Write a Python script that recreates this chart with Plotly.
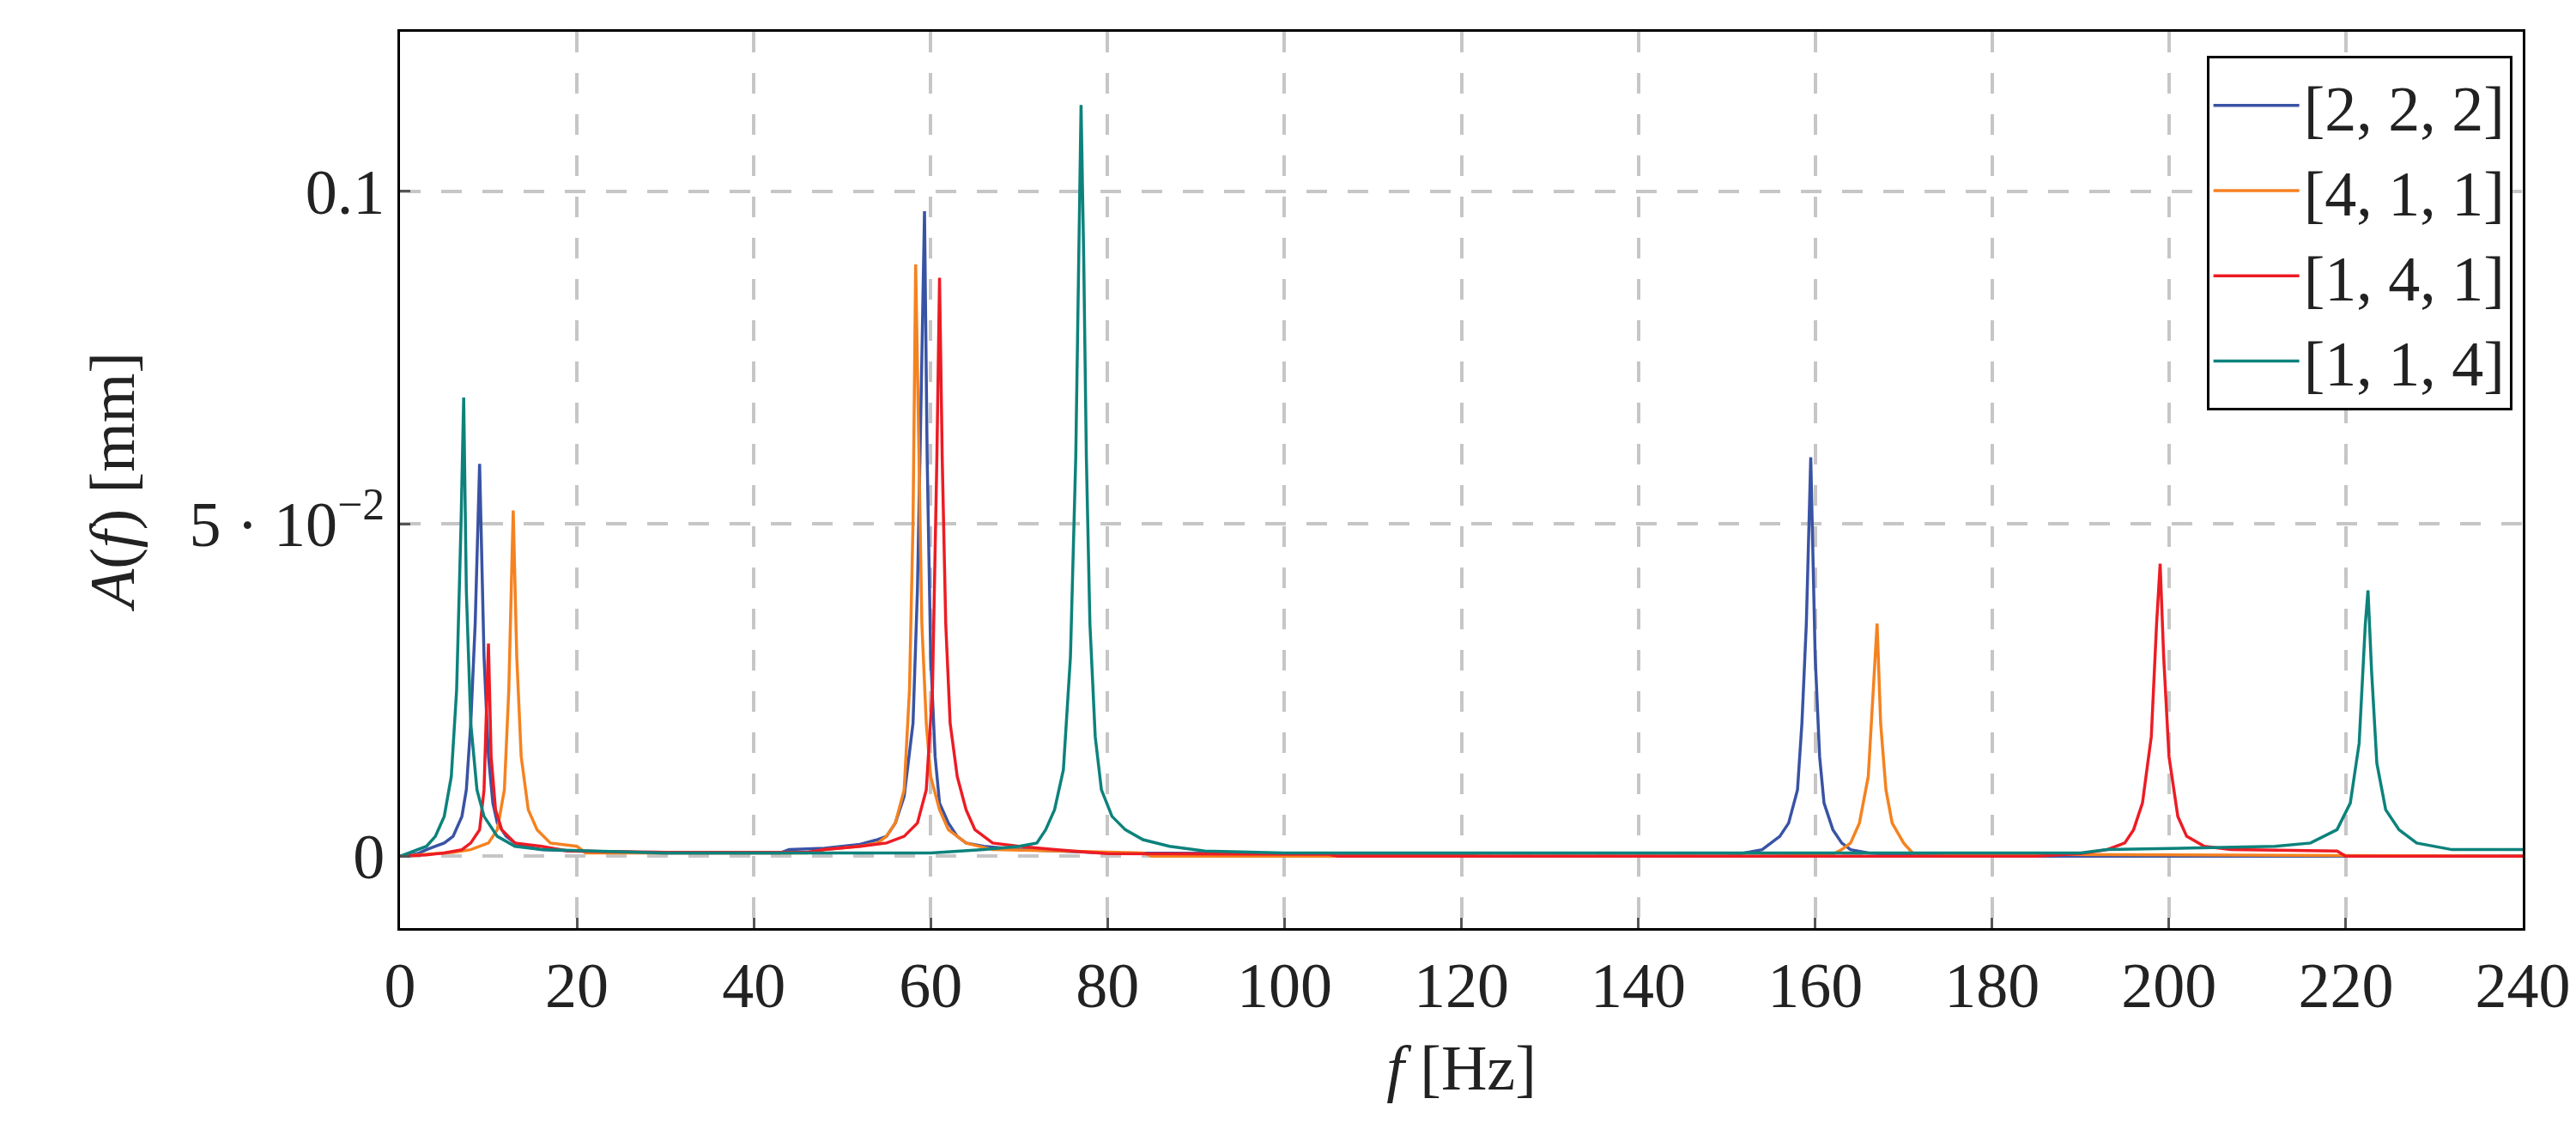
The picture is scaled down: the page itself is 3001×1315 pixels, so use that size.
import plotly.graph_objects as go

# (f [Hz], A [mm]) samples
blue_pts = [(0,0),(2,0.0004),(3,0.001),(4,0.0015),(5,0.002),(6,0.003),(7,0.006),(7.5,0.01),(8,0.02),(8.5,0.035),(9,0.059),(9.5,0.03),(10,0.015),(10.5,0.008),(11,0.005),(12,0.003),(13,0.002),(14,0.0015),(16,0.001),(20,0.0008),(30,0.0005),(43,0.0005),(44,0.001),(48,0.0012),(52,0.0018),(54,0.0025),(55,0.003),(56,0.005),(57,0.009),(58,0.02),(58.5,0.04),(59,0.075),(59.3,0.097),(59.6,0.06),(60,0.03),(60.5,0.015),(61,0.008),(62,0.005),(63,0.003),(64,0.002),(66,0.0015),(70,0.001),(80,0.0005),(100,0.0004),(121,0.0003),(122,0),(150,0),(152,0.0005),(154,0.001),(155,0.002),(156,0.003),(157,0.005),(158,0.01),(158.5,0.02),(159,0.035),(159.5,0.060),(160,0.03),(160.5,0.015),(161,0.008),(162,0.004),(163,0.002),(164,0.001),(166,0.0005),(170,0.0002),(180,0),(240,0)]
orange_pts = [(0,0),(3,0.0003),(6,0.0006),(8,0.001),(9,0.0015),(10,0.002),(11,0.004),(11.8,0.01),(12.3,0.025),(12.8,0.052),(13.2,0.03),(13.7,0.015),(14.5,0.007),(15.5,0.004),(17,0.002),(20,0.0015),(21,0.0005),(40,0.0005),(46,0.0005),(48,0.001),(52,0.0015),(54,0.002),(55,0.003),(56,0.005),(57,0.01),(57.6,0.025),(58,0.05),(58.3,0.089),(58.7,0.06),(59,0.035),(59.5,0.02),(60,0.012),(61,0.007),(62,0.004),(64,0.002),(67,0.001),(75,0.0008),(84,0.0005),(85,0),(155,0),(162,0.0003),(163,0.001),(164,0.002),(165,0.005),(166,0.012),(166.6,0.025),(167,0.035),(167.4,0.02),(168,0.01),(168.7,0.005),(170,0.002),(171,0.0005),(180,0.0003),(240,0)]
red_pts = [(0,0),(3,0.0002),(5,0.0005),(7,0.001),(8,0.002),(9,0.004),(9.5,0.01),(10,0.032),(10.3,0.015),(10.8,0.007),(11.5,0.004),(13,0.002),(16,0.0015),(19,0.0008),(30,0.0006),(46,0.0006),(48,0.001),(52,0.0015),(55,0.002),(57,0.003),(58.5,0.005),(59.5,0.01),(60.2,0.025),(60.7,0.06),(61,0.087),(61.3,0.06),(61.7,0.035),(62.2,0.02),(63,0.012),(64,0.007),(65,0.004),(67,0.002),(70,0.0015),(74,0.001),(80,0.0004),(105,0.0003),(106,0),(185,0),(190,0.0004),(193,0.001),(195,0.002),(196,0.004),(197,0.008),(198,0.018),(198.6,0.035),(199,0.044),(199.4,0.03),(200,0.015),(201,0.006),(202,0.003),(204,0.0015),(207,0.001),(219,0.0008),(220,0),(240,0)]
teal_pts = [(0,0),(1,0.0005),(2,0.001),(3,0.0015),(4,0.003),(5,0.006),(5.8,0.012),(6.4,0.025),(6.9,0.05),(7.2,0.069),(7.5,0.04),(8,0.02),(8.7,0.01),(9.5,0.006),(11,0.003),(13,0.0015),(16,0.001),(30,0.0005),(60,0.0005),(66,0.001),(70,0.0015),(72,0.002),(73,0.004),(74,0.007),(75,0.013),(75.8,0.03),(76.4,0.06),(76.8,0.095),(77,0.113),(77.3,0.09),(77.6,0.06),(78,0.035),(78.6,0.018),(79.3,0.01),(80.5,0.006),(82,0.004),(84,0.0025),(87,0.0015),(91,0.0008),(100,0.0005),(190,0.0005),(193,0.001),(200,0.0012),(212,0.0015),(216,0.002),(219,0.004),(220.5,0.008),(221.5,0.017),(222.2,0.035),(222.5,0.040),(222.9,0.028),(223.5,0.014),(224.5,0.007),(226,0.004),(228,0.002),(232,0.001),(240,0.001)]

series = [
    ("[2, 2, 2]", blue_pts, "#3953a4"),
    ("[4, 1, 1]", orange_pts, "#f58220"),
    ("[1, 4, 1]", red_pts, "#ed1c24"),
    ("[1, 1, 4]", teal_pts, "#0d827c"),
]

x_ticks = [0, 20, 40, 60, 80, 100, 120, 140, 160, 180, 200, 220, 240]
y_ticks = [0, 0.05, 0.1]
y_tick_labels = ["0", "5 · 10<sup>−2</sup>", "0.1"]

font = "Liberation Serif"
FS = 74
fig = go.Figure()
for name, pts, col in series:
    fig.add_trace(go.Scatter(x=[p[0] for p in pts], y=[p[1] for p in pts], name=name,
                             mode="lines", line=dict(color=col, width=3.5)))

axis_common = dict(showline=True, linecolor="black", linewidth=3, mirror=True,
                   showgrid=True, gridcolor="#c6c6c6", griddash="24px,24px", gridwidth=4,
                   ticks="inside", ticklen=12, tickwidth=3, tickcolor="#555",
                   zeroline=False, tickfont=dict(size=FS, family=font, color="#222"))
fig.update_xaxes(range=[0, 240], tickvals=x_ticks,
                 title=dict(text="<i>f</i> [Hz]", font=dict(size=FS, family=font, color="#222"), standoff=30),
                 **axis_common)
fig.update_yaxes(range=[-0.0108, 0.124], tickvals=y_ticks, ticktext=y_tick_labels,
                 title=dict(text="<i>A</i>(<i>f</i>) [mm]", font=dict(size=FS, family=font, color="#222"), standoff=40),
                 **axis_common)
fig.update_layout(width=3001, height=1315, plot_bgcolor="white", paper_bgcolor="white",
                  margin=dict(l=458, r=70, t=29, b=242),
                  legend=dict(x=0.995, y=0.973, xanchor="right", yanchor="top",
                              bordercolor="black", borderwidth=3, bgcolor="white",
                              font=dict(size=FS, family=font, color="#222"),
                              itemwidth=100, tracegroupgap=0))
fig.write_html("out.html")
